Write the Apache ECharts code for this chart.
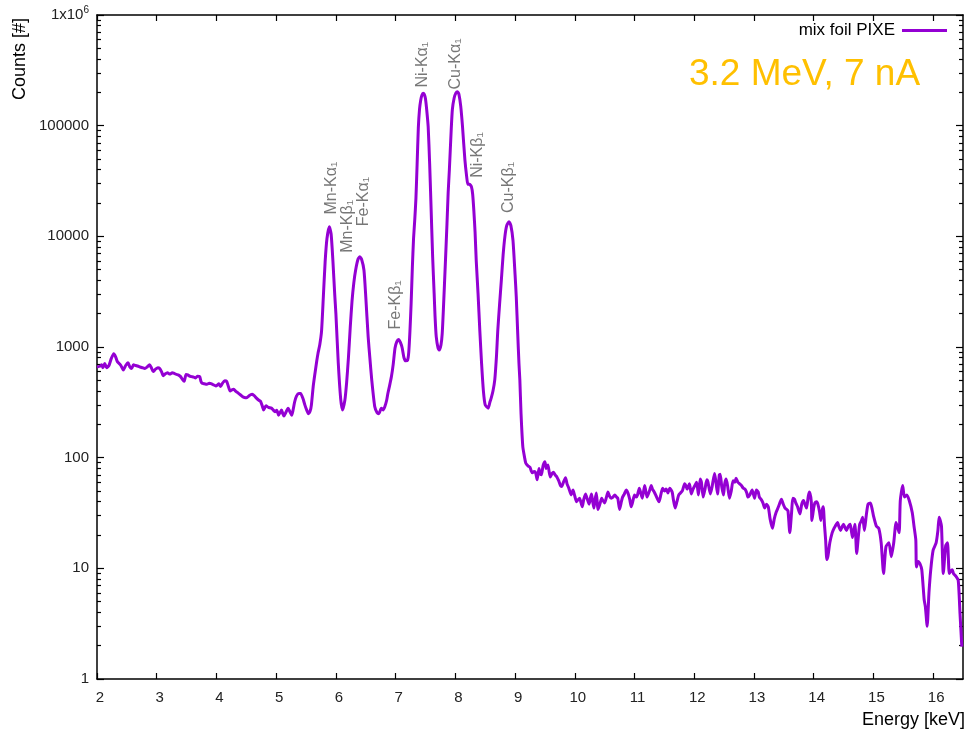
<!DOCTYPE html>
<html>
<head>
<meta charset="utf-8">
<title>mix foil PIXE</title>
<script src="https://cdn.jsdelivr.net/npm/echarts@6/dist/echarts.min.js"></script>
<style>
  html, body { margin: 0; padding: 0; background: #ffffff; }
  #chart { width: 967px; height: 733px; }
</style>
</head>
<body>
<div id="chart"></div>
<script>
// PIXE spectrum of the mixed foil: [energy keV, counts]
const spectrum = [
  [2.00, 660], [2.05, 670], [2.08, 690], [2.10, 650], [2.13, 710], [2.16, 650], [2.20, 680], [2.24, 790],
  [2.28, 870], [2.31, 820], [2.34, 740], [2.37, 710], [2.40, 680], [2.44, 620], [2.48, 680], [2.52, 720],
  [2.55, 660], [2.58, 640], [2.61, 690], [2.65, 680], [2.69, 670], [2.72, 660], [2.76, 650], [2.80, 640],
  [2.84, 660], [2.88, 690], [2.91, 650], [2.94, 600], [2.98, 630], [3.02, 650], [3.05, 640], [3.08, 600],
  [3.11, 550], [3.14, 570], [3.18, 585], [3.22, 570], [3.26, 585], [3.30, 575], [3.33, 565], [3.36, 560],
  [3.40, 540], [3.43, 510], [3.46, 490], [3.49, 565], [3.52, 560], [3.55, 545], [3.58, 540], [3.62, 535],
  [3.65, 525], [3.68, 545], [3.72, 540], [3.74, 490], [3.76, 470], [3.80, 465], [3.84, 460], [3.88, 470],
  [3.92, 465], [3.95, 455], [3.99, 445], [4.02, 455], [4.04, 465], [4.07, 440], [4.10, 470], [4.14, 495],
  [4.17, 490], [4.20, 440], [4.23, 400], [4.26, 410], [4.29, 415], [4.32, 400], [4.36, 385], [4.40, 370],
  [4.44, 355], [4.47, 350], [4.50, 347], [4.54, 360], [4.57, 370], [4.60, 375], [4.64, 360], [4.67, 345],
  [4.71, 330], [4.74, 322], [4.77, 290], [4.79, 270], [4.83, 294], [4.87, 285], [4.92, 280], [4.95, 270],
  [4.98, 260], [5.01, 268], [5.04, 242], [5.07, 258], [5.09, 270], [5.11, 250], [5.13, 238], [5.16, 255],
  [5.20, 280], [5.23, 260], [5.26, 242], [5.28, 265], [5.31, 320], [5.34, 360], [5.38, 380], [5.41, 380],
  [5.45, 340], [5.48, 300], [5.51, 270], [5.54, 250], [5.57, 265], [5.59, 300], [5.62, 440], [5.65, 580],
  [5.68, 750], [5.70, 875], [5.73, 1050], [5.76, 1400], [5.79, 2860], [5.82, 5900], [5.85, 9500], [5.89, 12200],
  [5.92, 10500], [5.95, 6000], [5.98, 3000], [6.00, 2000], [6.04, 713], [6.08, 340], [6.11, 270], [6.15, 330],
  [6.18, 480], [6.21, 800], [6.24, 1500], [6.27, 2600], [6.30, 3800], [6.33, 4940], [6.37, 6200], [6.40, 6550],
  [6.43, 6200], [6.47, 4940], [6.50, 2860], [6.54, 1240], [6.57, 780], [6.60, 505], [6.65, 290], [6.69, 255],
  [6.72, 250], [6.76, 280], [6.79, 270], [6.82, 290], [6.85, 330], [6.87, 380], [6.90, 450], [6.93, 540],
  [6.96, 700], [6.99, 980], [7.02, 1120], [7.05, 1170], [7.08, 1100], [7.11, 980], [7.14, 800], [7.17, 750],
  [7.20, 760], [7.22, 900], [7.24, 1400], [7.26, 2500], [7.28, 5200], [7.30, 9500], [7.32, 14000], [7.34, 22000],
  [7.36, 45000], [7.38, 95000], [7.40, 140000], [7.42, 170000], [7.44, 188000], [7.46, 196000], [7.48, 192000], [7.50, 175000],
  [7.52, 140000], [7.545, 98000], [7.57, 45000], [7.59, 21000], [7.62, 6500], [7.645, 3050], [7.66, 1900], [7.68, 1240],
  [7.71, 980], [7.73, 940], [7.76, 1050], [7.78, 1320], [7.80, 2200], [7.835, 6100], [7.86, 13000], [7.88, 25000],
  [7.90, 40000], [7.93, 90000], [7.95, 140000], [7.98, 178000], [8.01, 198000], [8.035, 203000], [8.06, 192000], [8.09, 150000],
  [8.12, 98000], [8.16, 49000], [8.19, 34500], [8.21, 29500], [8.24, 29500], [8.27, 28000], [8.29, 24000], [8.31, 17000],
  [8.33, 11000], [8.35, 6000], [8.38, 3050], [8.41, 1400], [8.44, 700], [8.47, 400], [8.50, 300], [8.55, 280],
  [8.58, 320], [8.60, 345], [8.63, 400], [8.66, 505], [8.69, 850], [8.71, 1400], [8.74, 2400], [8.77, 4000],
  [8.80, 6800], [8.83, 10000], [8.86, 12500], [8.90, 13550], [8.93, 12500], [8.965, 9200], [9.00, 4500], [9.02, 2850],
  [9.045, 1300], [9.065, 713], [9.08, 505], [9.10, 250], [9.13, 125], [9.16, 100], [9.18, 89], [9.22, 84],
  [9.25, 82], [9.27, 76], [9.29, 73], [9.32, 75], [9.345, 73], [9.37, 63], [9.40, 80], [9.42, 72],
  [9.44, 70], [9.47, 85], [9.50, 92], [9.52, 80], [9.55, 86], [9.57, 75], [9.59, 67], [9.62, 72],
  [9.645, 74], [9.67, 70], [9.70, 67], [9.73, 62], [9.76, 56], [9.78, 55], [9.81, 60], [9.845, 66],
  [9.87, 58], [9.90, 53], [9.94, 46], [9.97, 51], [10.00, 45], [10.03, 40], [10.06, 42], [10.08, 43],
  [10.10, 40], [10.125, 36], [10.15, 42], [10.18, 47], [10.21, 42], [10.24, 38], [10.26, 43], [10.28, 47],
  [10.30, 40], [10.32, 35], [10.34, 42], [10.36, 48], [10.39, 34], [10.42, 38], [10.45, 43], [10.47, 41],
  [10.50, 39], [10.53, 44], [10.555, 49], [10.58, 45], [10.61, 43], [10.64, 44], [10.67, 46], [10.70, 44],
  [10.72, 43], [10.75, 34], [10.78, 40], [10.80, 44], [10.83, 47], [10.86, 51], [10.89, 48], [10.92, 42],
  [10.945, 36], [10.97, 40], [11.00, 46], [11.03, 44], [11.05, 46], [11.08, 53], [11.10, 49], [11.13, 43],
  [11.17, 56], [11.21, 44], [11.25, 50], [11.28, 56], [11.30, 52], [11.33, 49], [11.37, 44], [11.41, 40],
  [11.44, 46], [11.47, 53], [11.50, 50], [11.53, 52], [11.56, 48], [11.59, 53], [11.63, 49], [11.65, 42],
  [11.68, 35], [11.71, 40], [11.74, 46], [11.77, 48], [11.80, 50], [11.84, 58], [11.86, 56], [11.88, 52],
  [11.92, 58], [11.95, 47], [11.98, 52], [12.01, 56], [12.04, 60], [12.07, 46], [12.10, 64], [12.12, 60],
  [12.15, 44], [12.18, 52], [12.21, 63], [12.23, 60], [12.27, 47], [12.30, 55], [12.34, 72], [12.36, 62],
  [12.39, 47], [12.42, 70], [12.435, 71], [12.46, 55], [12.49, 46], [12.51, 58], [12.535, 64], [12.56, 55],
  [12.59, 43], [12.62, 50], [12.65, 62], [12.68, 60], [12.70, 65], [12.73, 60], [12.76, 58], [12.79, 56],
  [12.82, 53], [12.85, 52], [12.88, 48], [12.90, 44], [12.93, 46], [12.97, 51], [13.01, 43], [13.04, 51],
  [13.07, 49], [13.09, 44], [13.12, 42], [13.15, 39], [13.18, 35], [13.21, 38], [13.24, 36], [13.27, 28],
  [13.31, 23], [13.34, 28], [13.37, 32], [13.41, 36], [13.44, 40], [13.46, 42], [13.49, 38], [13.52, 35],
  [13.55, 34], [13.57, 33], [13.60, 21], [13.63, 32], [13.65, 43], [13.68, 42], [13.70, 39], [13.73, 36],
  [13.77, 31], [13.80, 38], [13.83, 41], [13.86, 37], [13.88, 35], [13.91, 45], [13.93, 49], [13.96, 40],
  [13.97, 27], [14.00, 35], [14.02, 39], [14.05, 40], [14.07, 38], [14.10, 32], [14.12, 27], [14.14, 33],
  [14.16, 36], [14.18, 25], [14.20, 18], [14.22, 12], [14.24, 13], [14.27, 17], [14.31, 21], [14.34, 23],
  [14.36, 24], [14.40, 26], [14.42, 24], [14.45, 22], [14.48, 24], [14.50, 25], [14.53, 23], [14.55, 22],
  [14.58, 24], [14.61, 25], [14.63, 22], [14.65, 19], [14.69, 25], [14.72, 13.6], [14.75, 20], [14.77, 25],
  [14.80, 27], [14.82, 29], [14.85, 22], [14.88, 30], [14.91, 38], [14.95, 39], [14.98, 34], [15.00, 30],
  [15.05, 24], [15.09, 23], [15.13, 17], [15.17, 9], [15.21, 15.7], [15.26, 17], [15.30, 12.7], [15.34, 17],
  [15.38, 26], [15.43, 21], [15.45, 41], [15.49, 56], [15.52, 44], [15.56, 46], [15.60, 41], [15.65, 32],
  [15.68, 24], [15.71, 18], [15.72, 10.3], [15.75, 11.5], [15.78, 11], [15.81, 9.7], [15.85, 5.2], [15.87, 4.5],
  [15.90, 3.0], [15.93, 6], [15.96, 9.7], [16.00, 14.6], [16.05, 17], [16.08, 22], [16.10, 29], [16.12, 27],
  [16.14, 24], [16.17, 9], [16.21, 16], [16.24, 17], [16.27, 9], [16.30, 9.5], [16.32, 9.7], [16.34, 9],
  [16.38, 8.5], [16.42, 7.8], [16.45, 3.9], [16.48, 1.96]
];

// X-ray line annotations: name, energy (keV) and count level where the text starts
const peakNames = ['Mn-K\u03b1\u2081', 'Mn-K\u03b2\u2081', 'Fe-K\u03b1\u2081', 'Fe-K\u03b2\u2081',
                   'Ni-K\u03b1\u2081', 'Cu-K\u03b1\u2081', 'Ni-K\u03b2\u2081', 'Cu-K\u03b2\u2081'];
const peakEnergies = [5.94, 6.20, 6.47, 7.00, 7.455, 8.006, 8.375, 8.893];
const peakLabelCounts = [15600, 7030, 12200, 1423, 219000, 210000, 33400, 16100];

// Axis ticks
const xTicks = [2, 3, 4, 5, 6, 7, 8, 9, 10, 11, 12, 13, 14, 15, 16];
const yMajorTicks = [1, 10, 100, 1000, 10000, 100000, 1000000];
const yMinorTicks = [];
for (let d = 0; d < yMajorTicks.length - 1; d++) {
  for (let m = 2; m <= 9; m++) yMinorTicks.push(m * yMajorTicks[d]);
}

const FONT = '"Liberation Sans", Arial, Helvetica, sans-serif';
const AXIS_COLOR = '#000000';
const LINE_COLOR = '#9400D3';

const chart = echarts.init(document.getElementById('chart'), null, { renderer: 'canvas' });

function yAxisBase(position, showLabels, tickValues, tickLen) {
  return {
    type: 'log',
    logBase: 10,
    min: 1,
    max: 1000000,
    position: position,
    axisLine: { show: tickLen > 5, lineStyle: { color: AXIS_COLOR, width: 1.5 } },
    axisTick: { show: true, inside: true, length: tickLen, customValues: tickValues,
                lineStyle: { color: AXIS_COLOR, width: 1.2 } },
    axisLabel: {
      show: showLabels,
      customValues: yMajorTicks,
      margin: 8,
      fontFamily: FONT,
      fontSize: 15,
      color: '#222222',
      formatter: function (v) {
        if (Math.abs(v - 1000000) < 1) return '{a|1x10}{s|6}';
        return '{a|' + Math.round(v) + '}';
      },
      rich: {
        a: { fontFamily: FONT, fontSize: 15, color: '#222222', lineHeight: 20 },
        s: { fontFamily: FONT, fontSize: 10, color: '#222222', verticalAlign: 'top' }
      }
    },
    splitLine: { show: false },
    minorTick: { show: false }
  };
}

function xAxisBase(position, showLabels) {
  return {
    type: 'value',
    min: 2,
    max: 16.5,
    position: position,
    axisLine: { show: true, lineStyle: { color: AXIS_COLOR, width: 1.5 } },
    axisTick: { show: true, inside: true, length: 6, customValues: xTicks,
                lineStyle: { color: AXIS_COLOR, width: 1.2 } },
    axisLabel: {
      show: showLabels,
      customValues: xTicks,
      margin: 11,
      fontFamily: FONT,
      fontSize: 15,
      color: '#222222',
      padding: [0, 0, 0, 6]
    },
    splitLine: { show: false }
  };
}

const option = {
  animation: false,
  backgroundColor: '#ffffff',
  grid: { left: 97, right: 4, top: 15, bottom: 54, containLabel: false },
  legend: {
    data: ['mix foil PIXE'],
    right: 20,
    top: 22,
    padding: 0,
    align: 'right',
    icon: 'rect',
    itemWidth: 45,
    itemHeight: 3,
    itemGap: 0,
    textStyle: { fontFamily: FONT, fontSize: 17, color: '#000000', lineHeight: 17, padding: [0, 2, 0, 0] }
  },
  xAxis: [
    xAxisBase('bottom', true),
    xAxisBase('top', false)
  ],
  yAxis: [
    yAxisBase('left', true, yMajorTicks, 7),
    yAxisBase('right', false, yMajorTicks, 7),
    yAxisBase('left', false, yMinorTicks, 4),
    yAxisBase('right', false, yMinorTicks, 4)
  ],
  graphic: [
    {
      type: 'text',
      x: 20, y: 59,
      rotation: Math.PI / 2,
      style: { text: 'Counts [#]', fontFamily: FONT, fontSize: 18, fill: '#000000',
               align: 'center', verticalAlign: 'middle' }
    },
    {
      type: 'text',
      x: 965, y: 720,
      style: { text: 'Energy [keV]', fontFamily: FONT, fontSize: 18, fill: '#000000',
               align: 'right', verticalAlign: 'middle' }
    },
    {
      type: 'text',
      x: 689, y: 75,
      style: { text: '3.2 MeV, 7 nA', fontFamily: FONT, fontSize: 37, fill: '#FFC000',
               align: 'left', verticalAlign: 'middle' }
    }
  ],
  series: [
    {
      name: 'mix foil PIXE',
      type: 'line',
      xAxisIndex: 0,
      yAxisIndex: 0,
      data: spectrum,
      showSymbol: false,
      symbol: 'none',
      smooth: 0.2,
      clip: true,
      color: LINE_COLOR,
      lineStyle: { color: LINE_COLOR, width: 3, join: 'round' },
      z: 3
    },
    {
      name: 'lines',
      type: 'scatter',
      xAxisIndex: 0,
      yAxisIndex: 0,
      symbolSize: 1,
      itemStyle: { color: 'rgba(0,0,0,0)' },
      data: peakNames.map((n, i) => ({ name: n, value: [peakEnergies[i], peakLabelCounts[i]] })),
      label: {
        show: true,
        formatter: '{b}',
        position: [0, 0],
        rotate: 90,
        align: 'left',
        verticalAlign: 'middle',
        fontFamily: FONT,
        fontSize: 16,
        color: '#555555'
      },
      emphasis: { disabled: true },
      silent: true,
      z: 4
    }
  ]
};

chart.setOption(option);
</script>
</body>
</html>
